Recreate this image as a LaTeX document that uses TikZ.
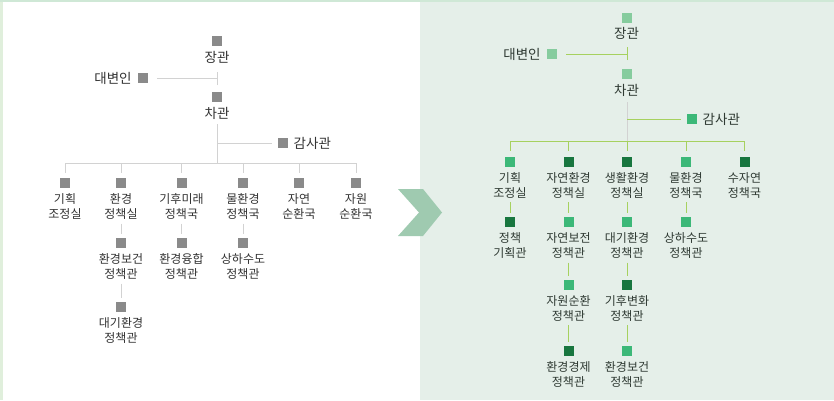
\documentclass[tikz,border=0pt]{standalone}
\usepackage{fontspec}
\setmainfont{Noto Sans CJK KR}
\definecolor{sqgray}{HTML}{8A8A8A}
\definecolor{lngray}{HTML}{D2D2D2}
\definecolor{txt}{HTML}{333333}
\definecolor{txtg}{HTML}{2F3A33}
\definecolor{panel}{HTML}{E5EFE9}
\definecolor{edge}{HTML}{E0EFDC}
\definecolor{topedge}{HTML}{CFE8D6}
\definecolor{chev}{HTML}{9FCAB0}
\definecolor{lime}{HTML}{A6D15F}
\definecolor{gtop}{HTML}{86CC9E}
\definecolor{glight}{HTML}{3CB878}
\definecolor{gdark}{HTML}{18763F}
\tikzset{
  sqbox/.style={minimum size=10pt,inner sep=0pt,fill=#1},
  big/.style={inner sep=0pt,text=txt,font=\fontsize{13.5}{16}\selectfont},
  small/.style={inner sep=0pt,text=txt,align=center,font=\fontsize{12}{15}\selectfont},
  gline/.style={draw=lngray,line width=1pt},
  lline/.style={draw=lime,line width=1pt},
  vline/.style={line width=1pt,shorten <=4pt,shorten >=4pt}
}
\begin{document}
\begin{tikzpicture}[x=1pt,y=-1pt]
\useasboundingbox (0,0) rectangle (834,400);
% background
\fill[white] (0,0) rectangle (834,400);
\fill[panel] (420,0) rectangle (834,400);
\fill[edge] (0,0) rectangle (3,400);
\fill[topedge] (0,0) rectangle (834,1.5);
\fill[chev] (398,189) -- (423,189) -- (442,212.5) -- (423,236) -- (398,236) -- (419,212.5) -- cycle;

% ================= LEFT =================
\node[sqbox=sqgray] (LsJ) at (217,41) {};
\node[big] (LlJ) at (217,57) {장관};
\node[big] (LlD) at (113,78) {대변인};
\node[sqbox=sqgray] (LsD) at (143,78) {};
\coordinate (LtJ) at (217,78);
\draw[gline] ([xshift=9pt]LsD.east) -- (LtJ);
\draw[gline] ([yshift=-7pt]LtJ) -- ([yshift=6pt]LtJ);
\node[sqbox=sqgray] (LsC) at (217,97) {};
\node[big] (LlC) at (217,113) {차관};
\coordinate (LbusC) at (217,163);
\coordinate (LgJ) at (217,143);
\node[sqbox=sqgray] (LsG) at (283,143) {};
\node[big,anchor=west] (LlG) at (293.5,143) {감사관};
\draw[gline] ([yshift=-5pt]LlC.south) -- (LbusC);
\draw[gline] (LgJ) -- ([xshift=-6pt]LsG.west);

\foreach \n/\x/\t in {1/65/{기획\\조정실},2/121/{환경\\정책실},3/181.5/{기후미래\\정책국},4/243/{물환경\\정책국},5/299/{자연\\순환국},6/356/{자원\\순환국}}{
  \node[sqbox=sqgray] (Ls\n) at (\x,183) {};
  \node[small] (Ll\n) at (\x,206.5) {\t};
  \coordinate (Lb\n) at (\x,163);
  \draw[gline] (Lb\n) -- ([yshift=5pt]Ls\n.north);
}
\draw[gline] (Lb1) -- (Lb6);

\node[sqbox=sqgray] (Ls2a) at (121,243) {};
\node[small] (Ll2a) at (121,266.5) {환경보건\\정책관};
\node[sqbox=sqgray] (Ls3a) at (181.5,243) {};
\node[small] (Ll3a) at (181.5,266.5) {환경융합\\정책관};
\node[sqbox=sqgray] (Ls4a) at (243,243) {};
\node[small] (Ll4a) at (243,266.5) {상하수도\\정책관};
\node[sqbox=sqgray] (Ls2b) at (121,307) {};
\node[small] (Ll2b) at (121,330) {대기환경\\정책관};
\draw[gline,vline] (Ll2) -- (Ls2a);
\draw[gline,vline] (Ll3) -- (Ls3a);
\draw[gline,vline] (Ll4) -- (Ls4a);
\draw[gline,vline] (Ll2a) -- (Ls2b);

% ================= RIGHT =================
\node[sqbox=gtop] (RsJ) at (626.5,18) {};
\node[big,text=txtg] (RlJ) at (626.5,33) {장관};
\node[big,text=txtg] (RlD) at (522,54) {대변인};
\node[sqbox=gtop] (RsD) at (552,54) {};
\coordinate (RtJ) at (627,54);
\draw[lline] ([xshift=9pt]RsD.east) -- (RtJ);
\draw[lline] ([yshift=-6pt]RtJ) -- ([yshift=7pt]RtJ);
\node[sqbox=gtop] (RsC) at (626.5,74) {};
\node[big,text=txtg] (RlC) at (626.5,90) {차관};
\coordinate (RbusC) at (627,141.5);
\coordinate (RgJ) at (627,119);
\node[sqbox=glight] (RsG) at (692,119) {};
\node[big,text=txtg,anchor=west] (RlG) at (702.5,119) {감사관};
\draw[gline] ([yshift=-6pt]RlC.south -| RbusC) -- (RbusC);
\draw[lline] (RgJ) -- ([xshift=-6pt]RsG.west);

\foreach \n/\x/\c/\t in {1/510/glight/{기획\\조정실},2/568.5/gdark/{자연환경\\정책실},3/627/gdark/{생활환경\\정책실},4/686/glight/{물환경\\정책국},5/744.5/gdark/{수자연\\정책국}}{
  \node[sqbox=\c] (Rs\n) at (\x,162) {};
  \node[small,text=txtg] (Rl\n) at (\x,185) {\t};
  \coordinate (Rb\n) at (\x,141.5);
  \draw[lline] (Rb\n) -- ([yshift=6pt]Rs\n.north);
}
\draw[lline] (Rb1) -- (Rb5);

\node[sqbox=gdark] (Rs1a) at (510,222) {};
\node[small,text=txtg] (Rl1a) at (510,245.5) {정책\\기획관};
\node[sqbox=glight] (Rs2a) at (568.5,222) {};
\node[small,text=txtg] (Rl2a) at (568.5,245.5) {자연보전\\정책관};
\node[sqbox=glight] (Rs3a) at (627,222) {};
\node[small,text=txtg] (Rl3a) at (627,245.5) {대기환경\\정책관};
\node[sqbox=glight] (Rs4a) at (686,222) {};
\node[small,text=txtg] (Rl4a) at (686,245.5) {상하수도\\정책관};
\node[sqbox=glight] (Rs2b) at (568.5,285) {};
\node[small,text=txtg] (Rl2b) at (568.5,308) {자원순환\\정책관};
\node[sqbox=gdark] (Rs3b) at (627,285) {};
\node[small,text=txtg] (Rl3b) at (627,308) {기후변화\\정책관};
\node[sqbox=gdark] (Rs2c) at (568.5,351) {};
\node[small,text=txtg] (Rl2c) at (568.5,374) {환경경제\\정책관};
\node[sqbox=glight] (Rs3c) at (627,351) {};
\node[small,text=txtg] (Rl3c) at (627,374) {환경보건\\정책관};
\draw[lline,vline] (Rl1) -- (Rs1a);
\draw[lline,vline] (Rl2) -- (Rs2a);
\draw[lline,vline] (Rl3) -- (Rs3a);
\draw[lline,vline] (Rl4) -- (Rs4a);
\draw[lline,vline] (Rl2a) -- (Rs2b);
\draw[lline,vline] (Rl3a) -- (Rs3b);
\draw[lline,vline] (Rl2b) -- (Rs2c);
\draw[lline,vline] (Rl3b) -- (Rs3c);
\end{tikzpicture}
\end{document}
